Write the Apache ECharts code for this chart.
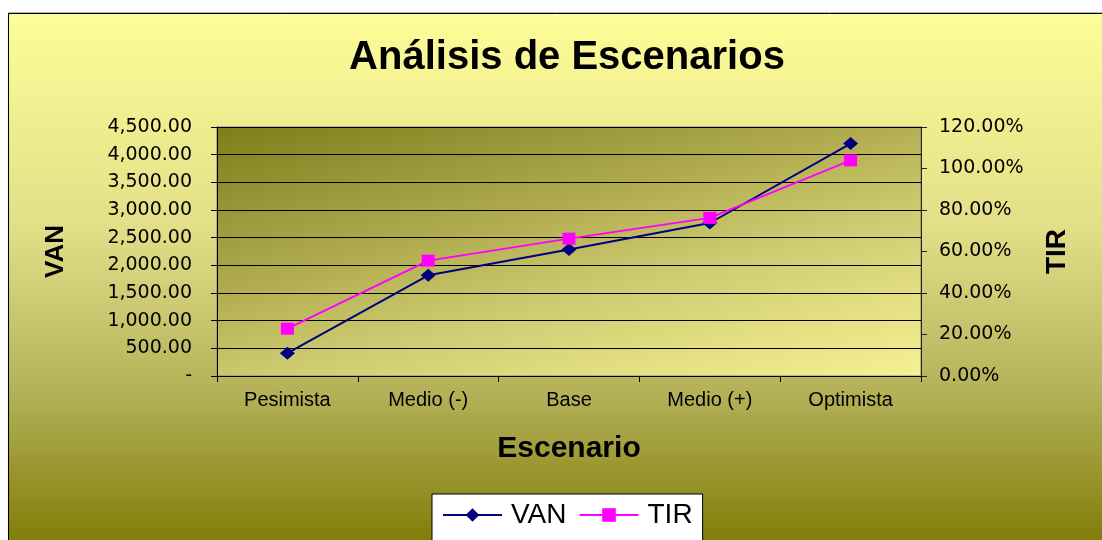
<!DOCTYPE html>
<html>
<head>
<meta charset="utf-8">
<script src="https://cdn.jsdelivr.net/npm/echarts@6/dist/echarts.min.js"></script>
<style>
html,body{margin:0;padding:0;background:#fff;}
#c{width:1102px;height:540px;}
</style>
</head>
<body>
<div id="c"></div>
<script>
const categories = ['Pesimista', 'Medio (-)', 'Base', 'Medio (+)', 'Optimista'];
const vanValues = [412, 1820, 2285, 2765, 4200];
const tirValues = [22.8, 55.6, 66.2, 76.2, 103.9];
const vanTickLabels = ['-', '500.00', '1,000.00', '1,500.00', '2,000.00', '2,500.00', '3,000.00', '3,500.00', '4,000.00', '4,500.00'];
const tirTickLabels = ['0.00%', '20.00%', '40.00%', '60.00%', '80.00%', '100.00%', '120.00%'];

const chart = echarts.init(document.getElementById('c'), null, {renderer: 'canvas'});
const sans = 'Liberation Sans, Arial, sans-serif';
const tickFont = 'DejaVu Sans, sans-serif';

chart.setOption({
  animation: false,
  backgroundColor: '#ffffff',
  graphic: [{
    type: 'rect',
    z: -10,
    silent: true,
    shape: {x: 8.5, y: 13.5, width: 1110, height: 545},
    style: {
      fill: {
        type: 'linear', x: 0, y: 0, x2: 0, y2: 1,
        colorStops: [
          {offset: 0, color: '#FEFD98'},
          {offset: 0.4, color: '#E2DE88'},
          {offset: 0.7, color: '#B3B058'},
          {offset: 1, color: '#7B7800'}
        ]
      },
      stroke: '#000',
      lineWidth: 1,
      shadowColor: 'rgba(0,0,0,0.35)',
      shadowOffsetY: -1,
      shadowBlur: 1
    }
  }],
  title: {
    text: 'Análisis de Escenarios',
    left: 562,
    textAlign: 'center',
    top: 33,
    textStyle: {fontFamily: sans, fontSize: 40, fontWeight: 'bold', color: '#000'}
  },
  legend: {
    left: 432,
    top: 494,
    orient: 'horizontal',
    backgroundColor: '#ffffff',
    borderColor: '#000',
    borderWidth: 1,
    padding: [7, 10, 20, 10],
    itemWidth: 59,
    itemHeight: 17,
    itemGap: 12,
    textStyle: {fontFamily: sans, fontSize: 28, color: '#000', padding: [0, 0, 0, 4]},
    data: ['VAN', 'TIR']
  },
  grid: {
    left: 217, right: 181, top: 127, bottom: 164,
    show: true,
    borderColor: '#808080',
    borderWidth: 1,
    backgroundColor: {
      type: 'linear', x: 217, y: 127, x2: 317, y2: 527, global: true,
      colorStops: [
        {offset: 0, color: '#7E7E1C'},
        {offset: 0.4, color: '#B2AE50'},
        {offset: 0.62, color: '#D0CC72'},
        {offset: 1, color: '#F6F292'}
      ]
    }
  },
  xAxis: {
    type: 'category',
    data: categories,
    boundaryGap: true,
    axisLine: {show: true, lineStyle: {color: '#000', width: 1}},
    axisTick: {show: true, length: 6, alignWithLabel: false, lineStyle: {color: '#000'}},
    axisLabel: {fontFamily: sans, fontSize: 20, color: '#000', margin: 14},
    name: 'Escenario',
    nameLocation: 'middle',
    nameGap: 58,
    nameTextStyle: {fontFamily: sans, fontSize: 30, fontWeight: 'bold', color: '#000'}
  },
  yAxis: [{
    type: 'value',
    min: 0, max: 4500, interval: 500,
    position: 'left',
    axisLine: {show: true, lineStyle: {color: '#000', width: 1}},
    axisTick: {show: true, length: 6, lineStyle: {color: '#000'}},
    axisLabel: {
      fontFamily: tickFont, fontSize: 19, color: '#000', margin: 25,
      formatter: function (v) { return vanTickLabels[Math.round(v / 500)]; }
    },
    splitLine: {show: true, lineStyle: {color: '#000', width: 1}},
    name: 'VAN',
    nameLocation: 'middle',
    nameRotate: 90,
    nameGap: 148,
    nameTextStyle: {fontFamily: sans, fontSize: 26, fontWeight: 'bold', color: '#000'}
  }, {
    type: 'value',
    min: 0, max: 120, interval: 20,
    position: 'right',
    axisLine: {show: true, lineStyle: {color: '#222', width: 1}},
    axisTick: {show: true, length: 6, lineStyle: {color: '#222'}},
    axisLabel: {
      fontFamily: tickFont, fontSize: 19, color: '#000', margin: 18,
      formatter: function (v) { return tirTickLabels[Math.round(v / 20)]; }
    },
    splitLine: {show: false},
    name: 'TIR',
    nameLocation: 'middle',
    nameRotate: 90,
    nameGap: 122,
    nameTextStyle: {fontFamily: sans, fontSize: 28, fontWeight: 'bold', color: '#000'}
  }],
  series: [{
    name: 'VAN',
    type: 'line',
    yAxisIndex: 0,
    data: vanValues,
    symbol: 'diamond',
    symbolSize: [15, 13],
    color: '#000080',
    lineStyle: {color: '#000080', width: 2},
    itemStyle: {color: '#000080'}
  }, {
    name: 'TIR',
    type: 'line',
    yAxisIndex: 1,
    data: tirValues,
    symbol: 'rect',
    symbolSize: [13, 12],
    color: '#FF00FF',
    lineStyle: {color: '#FF00FF', width: 2},
    itemStyle: {color: '#FF00FF'}
  }]
});
</script>
</body>
</html>
